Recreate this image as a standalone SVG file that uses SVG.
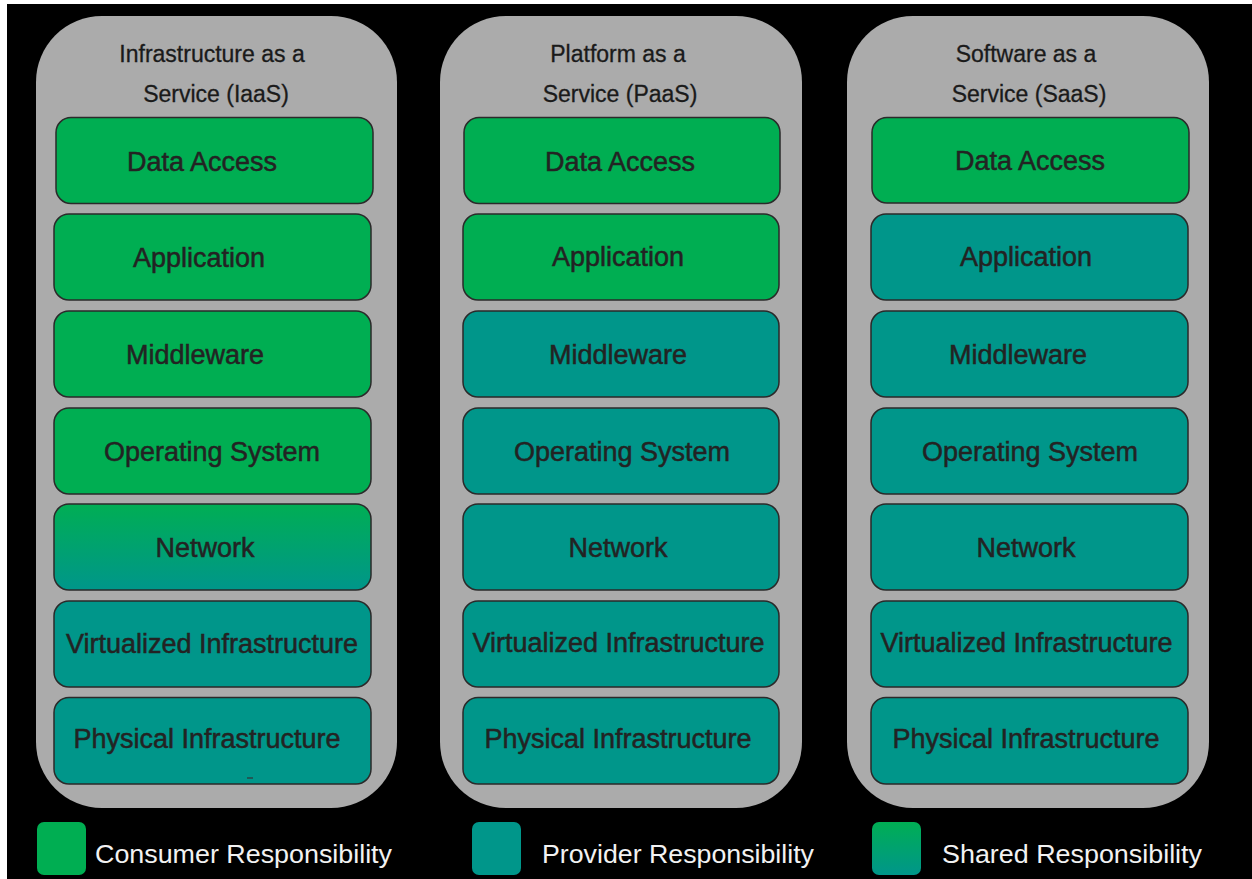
<svg xmlns="http://www.w3.org/2000/svg" width="1252" height="879" viewBox="0 0 1252 879">
  <defs>
    <linearGradient id="sharedFill" x1="0" y1="0" x2="0" y2="1">
      <stop offset="0" stop-color="#00AE54"/>
      <stop offset="1" stop-color="#00968A"/>
    </linearGradient>
    <style>
      .column { fill: #ABABAB; }
      .layer { stroke: #2A2A2A; stroke-width: 1.5; }
      .consumer { fill: #00AE52; }
      .provider { fill: #00968A; }
      .shared { fill: url(#sharedFill); }
      .title { font-family: "Liberation Sans", Arial, sans-serif; font-size: 23px; fill: #1A1A1A; stroke: #1A1A1A; stroke-width: 0.3; text-anchor: middle; }
      .label { font-family: "Liberation Sans", Arial, sans-serif; font-size: 27px; fill: #232323; stroke: #232323; stroke-width: 0.5; text-anchor: middle; }
      .legend-text { font-family: "Liberation Sans", Arial, sans-serif; font-size: 25px; fill: #F2F2F2; }
    </style>
  </defs>

  <!-- page frame -->
  <rect x="0" y="0" width="1252" height="879" fill="#FFFFFF"/>
  <rect x="7" y="4" width="1245" height="875" fill="#000000"/>

  <!-- Infrastructure as a Service -->
  <g id="iaas">
    <rect class="column" x="36" y="16" width="361" height="792" rx="66" ry="66"/>
    <text class="title" x="212" y="62">Infrastructure as a</text>
    <text class="title" x="216" y="102">Service (IaaS)</text>
    <g id="iaas-data-access">
      <rect class="layer consumer" x="56" y="117.5" width="317" height="86" rx="15"/>
      <text class="label" x="202" y="171">Data Access</text>
    </g>
    <g id="iaas-application">
      <rect class="layer consumer" x="54" y="214" width="317" height="86" rx="15"/>
      <text class="label" x="199" y="267">Application</text>
    </g>
    <g id="iaas-middleware">
      <rect class="layer consumer" x="54" y="311" width="317" height="86" rx="15"/>
      <text class="label" x="195" y="364">Middleware</text>
    </g>
    <g id="iaas-os">
      <rect class="layer consumer" x="54" y="408" width="317" height="86" rx="15"/>
      <text class="label" x="212" y="461">Operating System</text>
    </g>
    <g id="iaas-network">
      <rect class="layer shared" x="54" y="504" width="317" height="86" rx="15"/>
      <text class="label" x="205" y="557">Network</text>
    </g>
    <g id="iaas-virtualized">
      <rect class="layer provider" x="54" y="601" width="317" height="86" rx="15"/>
      <text class="label" x="212" y="653">Virtualized Infrastructure</text>
    </g>
    <g id="iaas-physical">
      <rect class="layer provider" x="54" y="697.5" width="317" height="86.5" rx="15"/>
      <text class="label" x="207" y="748">Physical Infrastructure</text>
      <line x1="247" y1="778" x2="253" y2="778" stroke="#333333" stroke-width="1.2"/>
    </g>
  </g>

  <!-- Platform as a Service -->
  <g id="paas">
    <rect class="column" x="440" y="16" width="362" height="792" rx="66" ry="66"/>
    <text class="title" x="618" y="62">Platform as a</text>
    <text class="title" x="620" y="102">Service (PaaS)</text>
    <g id="paas-data-access">
      <rect class="layer consumer" x="464" y="117.5" width="316" height="86" rx="15"/>
      <text class="label" x="620" y="171">Data Access</text>
    </g>
    <g id="paas-application">
      <rect class="layer consumer" x="463" y="214" width="316" height="86" rx="15"/>
      <text class="label" x="618" y="266">Application</text>
    </g>
    <g id="paas-middleware">
      <rect class="layer provider" x="463" y="311" width="316" height="86" rx="15"/>
      <text class="label" x="618" y="363.5">Middleware</text>
    </g>
    <g id="paas-os">
      <rect class="layer provider" x="463" y="408" width="316" height="86" rx="15"/>
      <text class="label" x="622" y="460.5">Operating System</text>
    </g>
    <g id="paas-network">
      <rect class="layer provider" x="463" y="504" width="316" height="86" rx="15"/>
      <text class="label" x="618" y="557">Network</text>
    </g>
    <g id="paas-virtualized">
      <rect class="layer provider" x="463" y="601" width="316" height="86" rx="15"/>
      <text class="label" x="618.5" y="652">Virtualized Infrastructure</text>
    </g>
    <g id="paas-physical">
      <rect class="layer provider" x="463" y="697.5" width="316" height="86.5" rx="15"/>
      <text class="label" x="618" y="748">Physical Infrastructure</text>
    </g>
  </g>

  <!-- Software as a Service -->
  <g id="saas">
    <rect class="column" x="847" y="16" width="362" height="792" rx="66" ry="66"/>
    <text class="title" x="1026" y="62">Software as a</text>
    <text class="title" x="1029" y="102">Service (SaaS)</text>
    <g id="saas-data-access">
      <rect class="layer consumer" x="872" y="117.5" width="317" height="85.5" rx="15"/>
      <text class="label" x="1030" y="170">Data Access</text>
    </g>
    <g id="saas-application">
      <rect class="layer provider" x="871" y="214" width="317" height="86" rx="15"/>
      <text class="label" x="1026" y="266">Application</text>
    </g>
    <g id="saas-middleware">
      <rect class="layer provider" x="871" y="311" width="317" height="86" rx="15"/>
      <text class="label" x="1018" y="363.5">Middleware</text>
    </g>
    <g id="saas-os">
      <rect class="layer provider" x="871" y="408" width="317" height="86" rx="15"/>
      <text class="label" x="1030" y="460.5">Operating System</text>
    </g>
    <g id="saas-network">
      <rect class="layer provider" x="871" y="504" width="317" height="86" rx="15"/>
      <text class="label" x="1026" y="557">Network</text>
    </g>
    <g id="saas-virtualized">
      <rect class="layer provider" x="871" y="601" width="317" height="86" rx="15"/>
      <text class="label" x="1026.5" y="652">Virtualized Infrastructure</text>
    </g>
    <g id="saas-physical">
      <rect class="layer provider" x="871" y="697.5" width="317" height="86.5" rx="15"/>
      <text class="label" x="1026" y="748">Physical Infrastructure</text>
    </g>
  </g>

  <!-- no connectors in this layered chart -->
  <g id="connectors"/>

  <!-- legend -->
  <g id="legend-consumer">
    <rect class="consumer" x="37" y="822" width="49" height="53" rx="7"/>
    <text class="legend-text" x="95" y="863" textLength="297" lengthAdjust="spacingAndGlyphs">Consumer Responsibility</text>
  </g>
  <g id="legend-provider">
    <rect class="provider" x="472" y="822" width="49" height="53" rx="7"/>
    <text class="legend-text" x="542" y="863" textLength="272" lengthAdjust="spacingAndGlyphs">Provider Responsibility</text>
  </g>
  <g id="legend-shared">
    <rect class="shared" x="872" y="822" width="49" height="53" rx="7"/>
    <text class="legend-text" x="942" y="863" textLength="260" lengthAdjust="spacingAndGlyphs">Shared Responsibility</text>
  </g>
</svg>
